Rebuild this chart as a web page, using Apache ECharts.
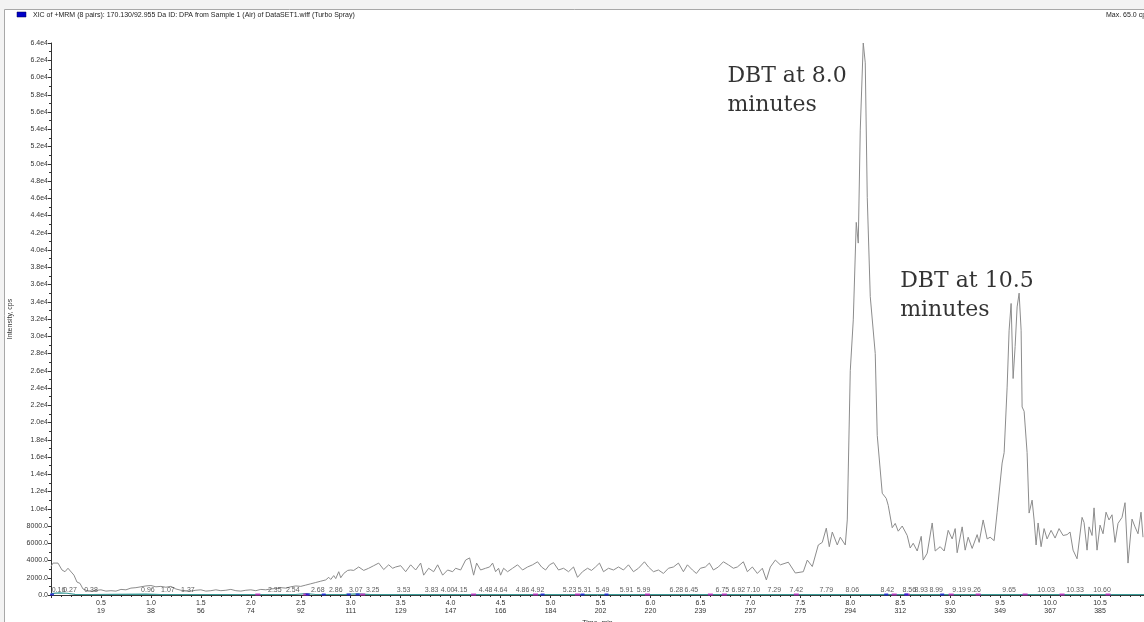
<!DOCTYPE html>
<html>
<head>
<meta charset="utf-8">
<script src="https://cdn.jsdelivr.net/npm/echarts@6/dist/echarts.min.js"></script>
<style>
  html, body { margin: 0; padding: 0; background: #fff; }
  #chart { width: 1144px; height: 622px; }
</style>
</head>
<body>
<div id="chart"></div>
<script>
// XIC trace, time in minutes / intensity in cps
const times = [
  0.00, 0.02, 0.04, 0.07, 0.11, 0.14, 0.17, 0.19, 0.23, 0.26, 0.29, 0.32, 0.36, 0.42, 0.46, 0.50,
  0.55, 0.60, 0.65, 0.70, 0.75, 0.80, 0.85, 0.90, 0.95, 1.00, 1.05, 1.10, 1.15, 1.20, 1.25, 1.30,
  1.35, 1.40, 1.45, 1.50, 1.55, 1.60, 1.65, 1.70, 1.75, 1.80, 1.85, 1.90, 1.95, 2.00, 2.05, 2.10,
  2.15, 2.20, 2.25, 2.30, 2.35, 2.40, 2.45, 2.50, 2.55, 2.60, 2.65, 2.70, 2.75, 2.78, 2.80, 2.83,
  2.85, 2.88, 2.90, 2.93, 2.97, 3.00, 3.03, 3.08, 3.13, 3.18, 3.23, 3.28, 3.33, 3.38, 3.42, 3.45,
  3.50, 3.55, 3.60, 3.65, 3.70, 3.73, 3.78, 3.83, 3.87, 3.92, 3.97, 4.02, 4.05, 4.10, 4.15, 4.19,
  4.23, 4.26, 4.30, 4.35, 4.39, 4.42, 4.45, 4.48, 4.50, 4.53, 4.57, 4.62, 4.67, 4.72, 4.77, 4.82,
  4.87, 4.91, 4.95, 4.99, 5.03, 5.08, 5.13, 5.18, 5.23, 5.27, 5.32, 5.37, 5.41, 5.45, 5.49, 5.53,
  5.58, 5.63, 5.68, 5.73, 5.78, 5.83, 5.88, 5.94, 5.98, 6.03, 6.08, 6.13, 6.18, 6.23, 6.28, 6.33,
  6.37, 6.42, 6.46, 6.50, 6.55, 6.59, 6.63, 6.68, 6.73, 6.78, 6.83, 6.87, 6.93, 6.97, 7.02, 7.07,
  7.12, 7.16, 7.20, 7.25, 7.30, 7.38, 7.45, 7.53, 7.57, 7.62, 7.68, 7.72, 7.76, 7.79, 7.82, 7.87,
  7.90, 7.95, 7.97, 8.00, 8.03, 8.06, 8.08, 8.10, 8.13, 8.15, 8.17, 8.20, 8.25, 8.27, 8.29, 8.32,
  8.36, 8.38, 8.42, 8.45, 8.48, 8.52, 8.57, 8.60, 8.63, 8.67, 8.71, 8.73, 8.77, 8.82, 8.85, 8.90,
  8.94, 8.98, 9.02, 9.05, 9.07, 9.12, 9.15, 9.18, 9.22, 9.27, 9.29, 9.33, 9.37, 9.40, 9.44, 9.47,
  9.49, 9.52, 9.54, 9.57, 9.59, 9.61, 9.63, 9.65, 9.67, 9.69, 9.71, 9.72, 9.74, 9.77, 9.79, 9.82,
  9.84, 9.86, 9.88, 9.91, 9.94, 9.97, 10.01, 10.05, 10.09, 10.13, 10.17, 10.20, 10.23, 10.27, 10.32, 10.34,
  10.37, 10.39, 10.42, 10.44, 10.47, 10.50, 10.53, 10.56, 10.59, 10.62, 10.65, 10.68, 10.72, 10.75, 10.78, 10.82,
  10.85, 10.88, 10.91, 10.93
];
const intensity = [
  3300, 3700, 3500, 3700, 2900, 2700, 3100, 3300, 2300, 1500, 1350, 700, 500, 450, 550, 600,
  450, 500, 450, 650, 600, 800, 850, 950, 1050, 1100, 950, 1000, 900, 1000, 700, 550,
  500, 450, 550, 600, 450, 500, 600, 500, 550, 650, 500, 450, 550, 600, 500, 650,
  600, 700, 750, 850, 800, 950, 1050, 1000, 1150, 1300, 1450, 1600, 1750, 2050, 1800, 2250,
  1900, 2700, 2000, 2500, 2850, 2900, 2850, 3250, 2850, 3100, 3400, 3700, 2950, 3500, 3100, 3250,
  3400, 2700, 3500, 2900, 3700, 2300, 3100, 2700, 3500, 2300, 2900, 2700, 3100, 2900, 4050, 4300,
  2300, 3700, 2900, 3100, 3250, 3700, 2700, 3100, 2300, 3100, 2700, 3100, 3500, 2900, 3250, 3500,
  3850, 3250, 2900, 3500, 3750, 2900, 3100, 2700, 3250, 2050, 2700, 3100, 2850, 3250, 3700, 2700,
  3100, 2900, 3250, 2900, 3500, 2700, 3100, 3850, 3250, 2700, 2900, 2500, 3100, 3250, 3700, 2700,
  3500, 2900, 2500, 3100, 3250, 3700, 2900, 3250, 3850, 3500, 3100, 3250, 3850, 2700, 3250, 2500,
  3100, 1750, 3250, 4050, 3500, 3800, 2550, 2700, 4050, 3300, 5800, 6100, 7750, 5600, 7300, 5800,
  6700, 5800, 8700, 26000, 31900, 43200, 40800, 53900, 64000, 61700, 46100, 34600, 28000, 18500, 18300, 11800,
  11200, 10400, 7800, 8300, 7400, 8000, 6900, 5450, 6000, 5100, 6800, 4050, 4850, 8350, 5100, 5600,
  5100, 7500, 6500, 7700, 4900, 7900, 5200, 6700, 5400, 7000, 6100, 8700, 6500, 6700, 6300, 9600,
  9800, 15300, 16500, 24100, 30700, 33800, 25100, 28800, 33400, 35000, 30700, 21800, 21300, 16500, 9500, 11000,
  8700, 5800, 8350, 5600, 7700, 6500, 7500, 6600, 7700, 6900, 7000, 7300, 5200, 4200, 9000, 8400,
  5200, 7900, 6900, 10100, 5200, 8100, 7100, 9600, 8700, 9300, 6100, 8300, 9000, 10700, 3700, 8800,
  7900, 7100, 9600, 6700
];

// other MRM pairs sitting on the baseline
const baseTimes = [0.00, 0.08, 0.16, 0.24, 0.40, 0.95, 1.10, 2.45, 2.55, 2.65, 2.95, 3.07, 3.20, 10.94];
const baseValues = [150, 250, 200, 80, 40, 90, 40, 60, 160, 60, 70, 140, 50, 40];
const magentaMarks = [2.07, 2.55, 3.12, 4.23, 4.85, 5.27, 5.97, 6.60, 6.74, 7.46, 8.44, 8.57, 9.01, 9.28, 9.75, 10.12, 10.58];
const blueMarks = [0.01, 2.57, 2.73, 2.98, 3.07, 4.92, 5.32, 5.56, 8.36, 8.56, 8.92];

// integrated peak retention times and where their labels sit (minutes)
const peakLabels = ['0.16', '0.27', '0.38', '0.96', '1.07', '1.37', '2.35', '2.54', '2.68', '2.86', '3.07', '3.25',
  '3.53', '3.83', '4.00', '4.15', '4.48', '4.64', '4.86', '4.92', '5.23', '5.31', '5.49', '5.91', '5.99',
  '6.28', '6.45', '6.75', '6.92', '7.10', '7.29', '7.42', '7.79', '8.06', '8.42', '8.56', '8.93', '8.99',
  '9.19', '9.26', '9.65', '10.03', '10.33', '10.60'];
const peakLabelAt = [0.075, 0.19, 0.40, 0.97, 1.17, 1.37, 2.24, 2.42, 2.67, 2.85, 3.05, 3.22,
  3.53, 3.81, 3.97, 4.10, 4.35, 4.50, 4.72, 4.87, 5.19, 5.34, 5.52, 5.76, 5.93,
  6.26, 6.41, 6.72, 6.88, 7.03, 7.24, 7.46, 7.76, 8.02, 8.37, 8.59, 8.71, 8.86,
  9.09, 9.24, 9.59, 9.96, 10.25, 10.52];

// x tick labels: time and scan cycle
const cycleLabels = [19, 38, 56, 74, 92, 111, 129, 147, 166, 184, 202, 220, 239, 257, 275, 294, 312, 330, 349, 367, 385];

const notes = ['DBT at 8.0\nminutes', 'DBT at 10.5\nminutes'];
const noteAt = [[6.77, 61800], [8.50, 38000]];

const titleText = 'XIC of +MRM (8 pairs): 170.130/92.955 Da ID: DPA from Sample 1 (Air) of DataSET1.wiff (Turbo Spray)';
const maxText = 'Max. 65.0 cps.';

const SANS = '"Liberation Sans", Arial, sans-serif';
const axisText = { fontFamily: SANS, fontSize: 7, color: '#333' };

const chart = echarts.init(document.getElementById('chart'), null, { renderer: 'canvas' });

chart.setOption({
  animation: false,
  backgroundColor: '#fff',
  grid: { left: 51, right: 0, top: 43, bottom: 27, outerBoundsMode: 'none' },
  xAxis: {
    type: 'value',
    min: 0,
    max: 10.94,
    interval: 0.5,
    name: 'Time, min',
    nameLocation: 'middle',
    nameGap: 22,
    nameTextStyle: axisText,
    axisLine: { lineStyle: { color: '#333', width: 1 } },
    axisTick: { length: 3, lineStyle: { color: '#333' } },
    minorTick: { show: true, splitNumber: 5, length: 2, lineStyle: { color: '#333' } },
    splitLine: { show: false },
    axisLabel: {
      ...axisText,
      margin: 4,
      lineHeight: 8,
      showMinLabel: false,
      showMaxLabel: false,
      formatter: (v) => {
        const idx = Math.round(v / 0.5) - 1;
        if (idx < 0 || idx >= cycleLabels.length) return '';
        return v.toFixed(1) + '\n' + cycleLabels[idx];
      },
    },
  },
  yAxis: {
    type: 'value',
    min: 0,
    max: 64000,
    interval: 2000,
    name: 'Intensity, cps',
    nameLocation: 'middle',
    nameGap: 37,
    nameRotate: 90,
    nameTextStyle: axisText,
    axisLine: { show: true, lineStyle: { color: '#333', width: 1 } },
    axisTick: { show: true, length: 3, lineStyle: { color: '#333' } },
    minorTick: { show: true, splitNumber: 2, length: 2, lineStyle: { color: '#333' } },
    splitLine: { show: false },
    axisLabel: {
      ...axisText,
      margin: 3,
      formatter: (v) => (v < 10000 ? v.toFixed(1) : (v / 10000).toFixed(1) + 'e4'),
    },
  },
  series: [
    {
      name: 'XIC',
      type: 'line',
      data: times.map((t, i) => [t, intensity[i]]),
      showSymbol: false,
      clip: true,
      lineStyle: { color: '#8c8c8c', width: 1 },
      z: 3,
    },
    {
      name: 'baseline',
      type: 'line',
      data: baseTimes.map((t, i) => [t, baseValues[i]]),
      showSymbol: false,
      lineStyle: { color: '#3a9a96', width: 1.2 },
      z: 4,
    },
    {
      name: 'magenta',
      type: 'scatter',
      data: magentaMarks.map((t) => [t, 60]),
      symbol: 'rect',
      symbolSize: [5, 2],
      itemStyle: { color: '#c020c0' },
      z: 5,
    },
    {
      name: 'blue',
      type: 'scatter',
      data: blueMarks.map((t) => [t, 60]),
      symbol: 'rect',
      symbolSize: [4, 2],
      itemStyle: { color: '#1a1adc' },
      z: 5,
    },
    {
      name: 'peaks',
      type: 'scatter',
      data: peakLabelAt.map((t, i) => [t, 0, peakLabels[i]]),
      symbolSize: 0,
      silent: true,
      label: {
        show: true,
        position: 'top',
        distance: 1,
        ...axisText,
        formatter: (p) => p.value[2],
      },
      z: 6,
    },
    {
      name: 'notes',
      type: 'scatter',
      data: noteAt.map((p, i) => [p[0], p[1], notes[i]]),
      symbolSize: 0,
      silent: true,
      label: {
        show: true,
        position: [0, 0],
        align: 'left',
        verticalAlign: 'top',
        fontFamily: '"DejaVu Serif", serif',
        fontSize: 22,
        lineHeight: 29,
        color: '#000',
        formatter: (p) => p.value[2],
      },
      z: 7,
    },
  ],
  graphic: [
    { type: 'rect', shape: { x: 0, y: 0, width: 1144, height: 9 }, style: { fill: '#f3f3f3' }, silent: true },
    { type: 'rect', shape: { x: 0, y: 9, width: 4, height: 613 }, style: { fill: '#f3f3f3' }, silent: true },
    { type: 'line', shape: { x1: 4.5, y1: 9.5, x2: 1144, y2: 9.5 }, style: { stroke: '#a8a8a8', lineWidth: 1 }, silent: true },
    { type: 'line', shape: { x1: 4.5, y1: 9.5, x2: 4.5, y2: 622 }, style: { stroke: '#a8a8a8', lineWidth: 1 }, silent: true },
    { type: 'rect', shape: { x: 17, y: 12, width: 9, height: 5 }, style: { fill: '#0000c8', stroke: '#000050', lineWidth: 0.5 }, silent: true },
    { type: 'text', x: 33, y: 15, style: { text: titleText, fontFamily: SANS, fontSize: 7, fill: '#222', verticalAlign: 'middle' }, silent: true },
    { type: 'text', x: 1106, y: 15, style: { text: maxText, fontFamily: SANS, fontSize: 7, fill: '#222', verticalAlign: 'middle' }, silent: true },
  ],
});
</script>
</body>
</html>
